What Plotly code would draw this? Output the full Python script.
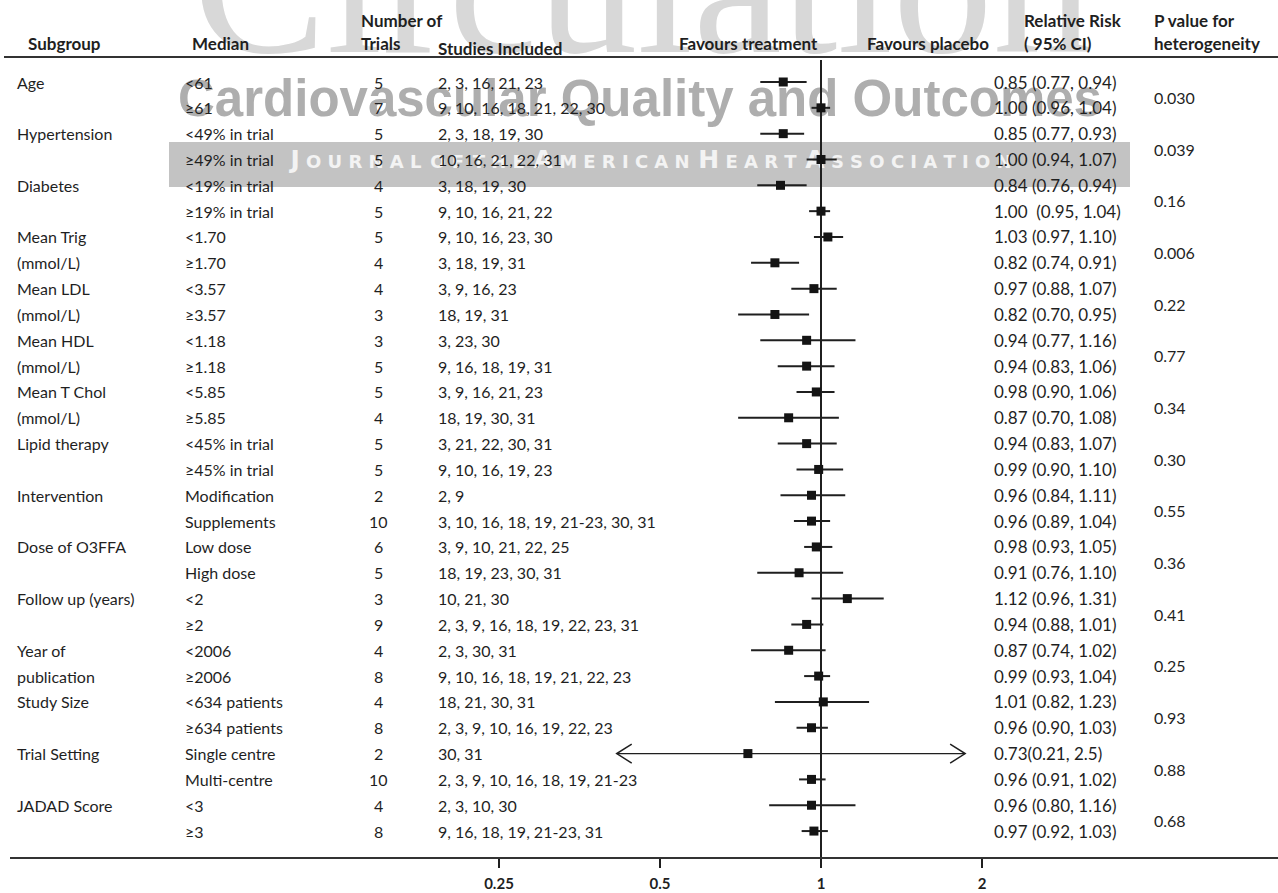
import math
import plotly.graph_objects as go

# ---------------------------------------------------------------------------
# Data
# ---------------------------------------------------------------------------
subgroups = [
    "Age", "Hypertension", "Diabetes", "Mean Trig\n(mmol/L)", "Mean LDL\n(mmol/L)",
    "Mean HDL\n(mmol/L)", "Mean T Chol\n(mmol/L)", "Lipid therapy", "Intervention",
    "Dose of O3FFA", "Follow up (years)", "Year of\npublication", "Study Size",
    "Trial Setting", "JADAD Score",
]
p_heterogeneity = [
    "0.030", "0.039", "0.16", "0.006", "0.22", "0.77", "0.34", "0.30",
    "0.55", "0.36", "0.41", "0.25", "0.93", "0.88", "0.68",
]
medians = [
    "<61", "≥61", "<49% in trial", "≥49% in trial", "<19% in trial", "≥19% in trial",
    "<1.70", "≥1.70", "<3.57", "≥3.57", "<1.18", "≥1.18", "<5.85", "≥5.85",
    "<45% in trial", "≥45% in trial", "Modification", "Supplements",
    "Low dose", "High dose", "<2", "≥2", "<2006", "≥2006",
    "<634 patients", "≥634 patients", "Single centre", "Multi-centre", "<3", "≥3",
]
n_trials = [5, 7, 5, 5, 4, 5, 5, 4, 4, 3, 3, 5, 5, 4, 5, 5, 2, 10, 6, 5, 3, 9, 4, 8, 4, 8, 2, 10, 4, 8]
studies = [
    "2, 3, 16, 21, 23", "9, 10, 16, 18, 21, 22, 30",
    "2, 3, 18, 19, 30", "10, 16, 21, 22, 31",
    "3, 18, 19, 30", "9, 10, 16, 21, 22",
    "9, 10, 16, 23, 30", "3, 18, 19, 31",
    "3, 9, 16, 23", "18, 19, 31",
    "3, 23, 30", "9, 16, 18, 19, 31",
    "3, 9, 16, 21, 23", "18, 19, 30, 31",
    "3, 21, 22, 30, 31", "9, 10, 16, 19, 23",
    "2, 9", "3, 10, 16, 18, 19, 21-23, 30, 31",
    "3, 9, 10, 21, 22, 25", "18, 19, 23, 30, 31",
    "10, 21, 30", "2, 3, 9, 16, 18, 19, 22, 23, 31",
    "2, 3, 30, 31", "9, 10, 16, 18, 19, 21, 22, 23",
    "18, 21, 30, 31", "2, 3, 9, 10, 16, 19, 22, 23",
    "30, 31", "2, 3, 9, 10, 16, 18, 19, 21-23",
    "2, 3, 10, 30", "9, 16, 18, 19, 21-23, 31",
]
rr = [0.85, 1.00, 0.85, 1.00, 0.84, 1.00, 1.03, 0.82, 0.97, 0.82, 0.94, 0.94, 0.98, 0.87, 0.94,
      0.99, 0.96, 0.96, 0.98, 0.91, 1.12, 0.94, 0.87, 0.99, 1.01, 0.96, 0.73, 0.96, 0.96, 0.97]
ci_low = [0.77, 0.96, 0.77, 0.94, 0.76, 0.95, 0.97, 0.74, 0.88, 0.70, 0.77, 0.83, 0.90, 0.70, 0.83,
          0.90, 0.84, 0.89, 0.93, 0.76, 0.96, 0.88, 0.74, 0.93, 0.82, 0.90, 0.21, 0.91, 0.80, 0.92]
ci_high = [0.94, 1.04, 0.93, 1.07, 0.94, 1.04, 1.10, 0.91, 1.07, 0.95, 1.16, 1.06, 1.06, 1.08, 1.07,
           1.10, 1.11, 1.04, 1.05, 1.10, 1.31, 1.01, 1.02, 1.04, 1.23, 1.03, 2.5, 1.02, 1.16, 1.03]
rr_labels = [
    "0.85 (0.77, 0.94)", "1.00 (0.96, 1.04)", "0.85 (0.77, 0.93)", "1.00 (0.94, 1.07)",
    "0.84 (0.76, 0.94)", "1.00  (0.95, 1.04)", "1.03 (0.97, 1.10)", "0.82 (0.74, 0.91)",
    "0.97 (0.88, 1.07)", "0.82 (0.70, 0.95)", "0.94 (0.77, 1.16)", "0.94 (0.83, 1.06)",
    "0.98 (0.90, 1.06)", "0.87 (0.70, 1.08)", "0.94 (0.83, 1.07)", "0.99 (0.90, 1.10)",
    "0.96 (0.84, 1.11)", "0.96 (0.89, 1.04)", "0.98 (0.93, 1.05)", "0.91 (0.76, 1.10)",
    "1.12 (0.96, 1.31)", "0.94 (0.88, 1.01)", "0.87 (0.74, 1.02)", "0.99 (0.93, 1.04)",
    "1.01 (0.82, 1.23)", "0.96 (0.90, 1.03)", "0.73(0.21, 2.5)", "0.96 (0.91, 1.02)",
    "0.96 (0.80, 1.16)", "0.97 (0.92, 1.03)",
]
tick_values = [0.25, 0.5, 1, 2]
tick_labels = ["0.25", "0.5", "1", "2"]

# ---------------------------------------------------------------------------
# Geometry / styling
# ---------------------------------------------------------------------------
W, H = 1278, 893
PLOT_L, PLOT_B = 10, 36           # plot area: x from 10 px, bottom axis at 857 px
PH = H - PLOT_B
PX_ONE = 821                      # pixel column of RR = 1
PX_PER_DOUBLING = 161
PX_PER_DECADE = PX_PER_DOUBLING / math.log10(2)
ROW0, ROW_STEP = 82, 25.83        # first row pixel and row spacing
DISPLAY_MIN, DISPLAY_MAX = 0.415, 1.86   # CI whiskers beyond these get arrows

x_range = [-(PX_ONE - PLOT_L) / PX_PER_DECADE, (W - PX_ONE) / PX_PER_DECADE]
y_range = [(PH - ROW0) / ROW_STEP, -ROW0 / ROW_STEP]

FONT = "Lato, 'Open Sans', sans-serif"
INK = "#1f1f1f"


def xp(px):
    """pixel column -> paper x"""
    return (px - PLOT_L) / (W - PLOT_L)


def yp(py):
    """pixel row -> paper y"""
    return 1 - py / PH


def x_data(px):
    return 10 ** (x_range[0] + (px - PLOT_L) / PX_PER_DECADE)


def y_data(py):
    return (py - ROW0) / ROW_STEP


rows = list(range(len(rr)))
fig = go.Figure()
ann = []

# Journal watermark (drawn first so everything else sits on top)
ann.append(dict(x=xp(643), y=yp(97), xref="paper", yref="paper", text="Circulation",
                showarrow=False, xanchor="center", yanchor="bottom",
                font=dict(family="Liberation Serif, serif", size=200, color="#d8d8d8")))
fig.add_shape(type="rect", xref="paper", yref="paper", x0=xp(169), x1=xp(1130),
              y0=yp(187), y1=yp(142), fillcolor="#c3c3c3", line_width=0, layer="below")
fig.add_trace(go.Scatter(
    x=[x_data(640)], y=[y_data(103)], mode="text",
    text=["Cardiovascular Quality and Outcomes"],
    textfont=dict(family="Liberation Sans, Arial, sans-serif", size=51, color="#aeaeae", weight="bold"),
    cliponaxis=False, hoverinfo="skip", showlegend=False))
assoc = "Journal of the American Heart Association"
assoc_spaced = " ".join("\u2005".join(word) for word in assoc.split())
fig.add_trace(go.Scatter(
    x=[x_data(651)], y=[y_data(162)], mode="text", text=[assoc_spaced],
    textfont=dict(family="DejaVu Sans, sans-serif", size=25, color="#f3f3f3",
                  weight="bold", variant="small-caps"),
    cliponaxis=False, hoverinfo="skip", showlegend=False))

# Line of no effect
fig.add_trace(go.Scatter(
    x=[1, 1], y=[y_data(60), y_range[0]], mode="lines",
    line=dict(color=INK, width=2), hoverinfo="skip", showlegend=False))

# Confidence intervals
ci_x, ci_y, arr_x, arr_y, head_x, head_y = [], [], [], [], [], []
k = 2 ** (15 / PX_PER_DOUBLING)
d = 9.5 / ROW_STEP
for i, lo, hi in zip(rows, ci_low, ci_high):
    if lo < DISPLAY_MIN or hi > DISPLAY_MAX:
        a, b = max(lo, DISPLAY_MIN), min(hi, DISPLAY_MAX)
        arr_x += [a, b, None]
        arr_y += [i, i, None]
        if lo < DISPLAY_MIN:
            head_x += [a * k, a, a * k, None]
            head_y += [i - d, i, i + d, None]
        if hi > DISPLAY_MAX:
            head_x += [b / k, b, b / k, None]
            head_y += [i - d, i, i + d, None]
    else:
        ci_x += [lo, hi, None]
        ci_y += [i, i, None]

fig.add_trace(go.Scatter(x=ci_x, y=ci_y, mode="lines", line=dict(color=INK, width=2),
                         hoverinfo="skip", showlegend=False))
fig.add_trace(go.Scatter(x=arr_x, y=arr_y, mode="lines", line=dict(color=INK, width=1.3),
                         hoverinfo="skip", showlegend=False))
fig.add_trace(go.Scatter(x=head_x, y=head_y, mode="lines", line=dict(color=INK, width=1.5),
                         hoverinfo="skip", showlegend=False))
fig.add_trace(go.Scatter(
    x=rr, y=rows, mode="markers",
    marker=dict(symbol="square", size=9, color="#141414", line=dict(width=0)),
    hovertext=rr_labels, hoverinfo="text", showlegend=False))


# Text columns
def text(x, y, s, yref="y", bold=False, size=16, anchor="left"):
    ann.append(dict(x=x, y=y, xref="paper", yref=yref, text=s, showarrow=False,
                    xanchor=anchor, yanchor="middle",
                    font=dict(family=FONT, size=size, color=INK,
                              weight="bold" if bold else "normal")))


# header
HB = 17
text(xp(26), yp(43), "Subgroup", "paper", True, HB)
text(xp(190), yp(43), "Median", "paper", True, HB)
text(xp(359), yp(21), "Number of", "paper", True, HB)
text(xp(359), yp(43), "Trials", "paper", True, HB)
text(xp(436), yp(49), "Studies Included", "paper", True, HB)
text(xp(677), yp(43), "Favours treatment", "paper", True, HB)
text(xp(865), yp(43), "Favours placebo", "paper", True, HB)
text(xp(1022), yp(21), "Relative Risk", "paper", True, HB)
text(xp(1022), yp(43), "( 95% CI)", "paper", True, HB)
text(xp(1152), yp(21), "P value for", "paper", True, HB)
text(xp(1152), yp(43), "heterogeneity", "paper", True, HB)

for g, (name, p) in enumerate(zip(subgroups, p_heterogeneity)):
    for j, line in enumerate(name.split("\n")):
        text(xp(15), 2 * g + j, line)
    text(xp(1152), 2 * g + 0.6, p)

for i in rows:
    text(xp(183), i, medians[i])
    text(xp(378), i, str(n_trials[i]), anchor="center")
    text(xp(436), i, studies[i])
    text(xp(992), i, rr_labels[i], size=17)

fig.add_shape(type="line", xref="paper", yref="paper", x0=xp(4), x1=1, y0=yp(57), y1=yp(57),
              line=dict(color="#333333", width=2))

fig.update_layout(
    width=W, height=H,
    margin=dict(l=PLOT_L, r=0, t=0, b=PLOT_B, pad=0),
    paper_bgcolor="white", plot_bgcolor="white",
    annotations=ann,
    xaxis=dict(type="log", range=x_range, tickvals=tick_values, ticktext=tick_labels,
               ticks="outside", ticklen=9, tickwidth=1.5, tickcolor=INK,
               showline=True, linewidth=2, linecolor="#333333",
               showgrid=False, zeroline=False, ticklabelstandoff=3, automargin=False,
               tickfont=dict(family=FONT, size=15, color=INK, weight="bold"),
               fixedrange=True),
    yaxis=dict(range=y_range, visible=False, showgrid=False, zeroline=False,
               automargin=False, fixedrange=True),
    showlegend=False,
)

fig.write_html("out.html")
